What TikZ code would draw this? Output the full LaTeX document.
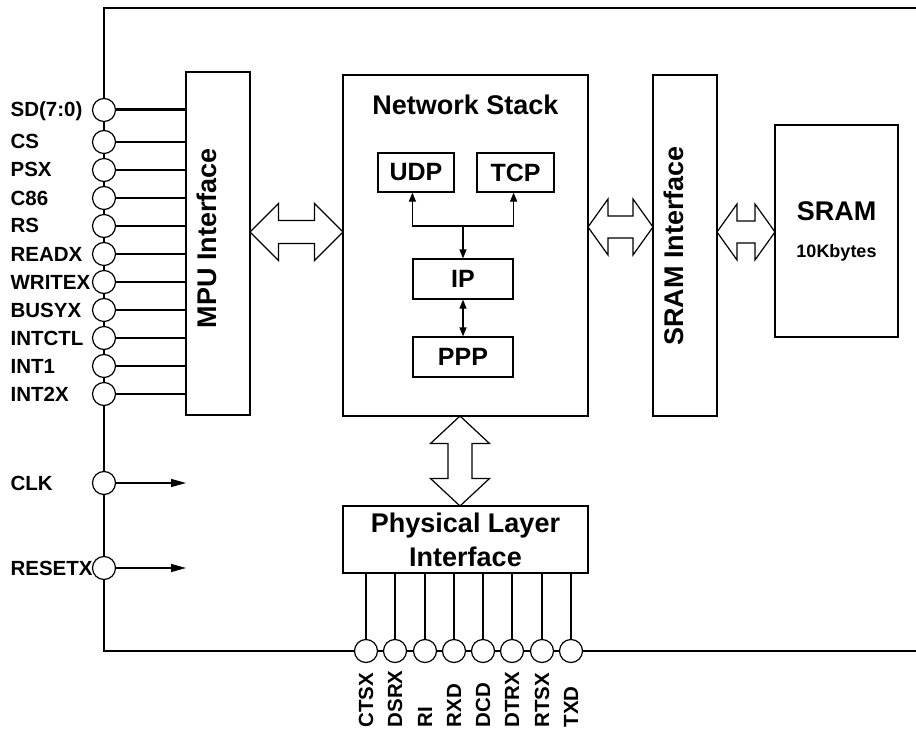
\documentclass[tikz,border=0pt]{standalone}
\usepackage{fontspec}
\setmainfont{Liberation Sans}
\usetikzlibrary{arrows.meta,calc}
\newcommand\hdarr[6]{\draw[hollow] (#1,#3) -- ({#1+#4},{#3-#5}) -- ({#1+#4},{#3-#6}) -- ({#2-#4},{#3-#6}) -- ({#2-#4},{#3-#5}) -- (#2,#3) -- ({#2-#4},{#3+#5}) -- ({#2-#4},{#3+#6}) -- ({#1+#4},{#3+#6}) -- ({#1+#4},{#3+#5}) -- cycle;}
\newcommand\vdarr[6]{\draw[hollow] (#3,#1) -- ({#3-#5},{#1+#4}) -- ({#3-#6},{#1+#4}) -- ({#3-#6},{#2-#4}) -- ({#3-#5},{#2-#4}) -- (#3,#2) -- ({#3+#5},{#2-#4}) -- ({#3+#6},{#2-#4}) -- ({#3+#6},{#1+#4}) -- ({#3+#5},{#1+#4}) -- cycle;}
\begin{document}
\begin{tikzpicture}[x=1pt,y=-1pt,
  line width=1.2pt,
  box/.style={draw,rectangle,inner sep=0pt,fill=white},
  pin/.style={draw,circle,minimum size=23pt,inner sep=0pt,fill=white},
  lbl/.style={font=\fontsize{20.5}{23}\selectfont\bfseries,inner sep=0pt,anchor=base west},
  big/.style={font=\fontsize{27}{34}\selectfont\bfseries},
  mid/.style={font=\fontsize{25}{28}\selectfont\bfseries},
  small/.style={font=\fontsize{18}{20}\selectfont\bfseries},
  hollow/.style={draw,fill=white,line join=miter},
  tip/.style={-{Triangle[length=9pt,width=7pt]}},
  dtip/.style={{Triangle[length=9pt,width=7pt]}-{Triangle[length=9pt,width=7pt]}},
  bigtip/.style={-{Triangle[length=15pt,width=8pt]}},
  ]
\useasboundingbox (0,0) rectangle (916,733);
% frame
\draw (916,8) -- (104,8) -- (104,651) -- (916,651);
% main blocks
\node[box,minimum width=64pt,minimum height=343pt] (mpu) at (218,243.5) {};
\node[big,rotate=90] at (207,238) {MPU Interface};
\node[box,minimum width=245pt,minimum height=341pt] (ns) at (465.5,245.5) {};
\node[big,anchor=base] (nstitle) at (465.5,115) {Network Stack};
\node[box,minimum width=64pt,minimum height=341pt] (srami) at (685,245.5) {};
\node[big,rotate=90] at (674,246) {SRAM Interface};
\node[box,minimum width=123pt,minimum height=212pt] (sram) at (836.5,231) {};
\node[big,anchor=base] (sramt) at (836.5,220) {SRAM};
\node[small,anchor=base] (sramk) at (836.5,257) {10Kbytes};
\node[box,big,align=center,minimum width=245pt,minimum height=67pt] (phy) at (465.5,539.5) {Physical Layer\\Interface};
% stack
\node[box,mid,minimum width=76pt,minimum height=39pt] (udp) at (416,172.5) {UDP};
\node[box,mid,minimum width=77pt,minimum height=39pt] (tcp) at (515.5,172.5) {TCP};
\node[box,mid,minimum width=100pt,minimum height=40pt] (ip) at (463,279) {IP};
\node[box,mid,minimum width=100pt,minimum height=40pt] (ppp) at (463,357) {PPP};
\coordinate (jn) at (ip.north |- 0,226);
\draw[dtip] (udp.south -| ip.west) |- (jn) -| (tcp.south -| ip.east);
\draw[tip] (jn) -- (ip.north);
\draw[dtip] (ip.south) -- (ppp.north);
% hollow arrows
\hdarr{250}{343}{232}{28.5}{28.5}{11.5}
\hdarr{588}{653}{227}{20}{28}{11}
\hdarr{717}{775}{232}{20}{28}{11}
\vdarr{416}{506}{460}{27.5}{29.5}{12}
% left pins
\node[pin] (sd) at (104,110) {};
\node[lbl] at (10,117) {SD(7:0)};
\draw[line width=3pt] (sd.east) -- (sd.east -| mpu.west);
\foreach \t/\y/\nm in {CS/142/cs,PSX/170/psx,C86/198/c86,RS/226/rs,READX/254/readx,WRITEX/282/writex,BUSYX/310/busyx,INTCTL/338/intctl,INT1/366/intone,INT2X/394/inttwox}{
  \node[pin] (\nm) at (104,\y) {};
  \node[lbl] at (10,{\y+7}) {\t};
  \draw (\nm.east) -- (\nm.east -| mpu.west);
}
\node[pin] (clk) at (104,483) {};
\node[lbl] at (10,490) {CLK};
\coordinate (clkend) at (186,483);
\draw[bigtip] (clk.east) -- (clkend);
\node[pin] (rst) at (104,568) {};
\node[lbl] at (10,575) {RESETX};
\coordinate (rstend) at (186,568);
\draw[bigtip] (rst.east) -- (rstend);
% bottom pins
\foreach \t/\x in {CTSX/366,DSRX/395,RI/425,RXD/454,DCD/483,DTRX/512,RTSX/542,TXD/571}{
  \node[pin] (b\t) at (\x,651) {};
  \draw (b\t.north) -- (b\t.north |- phy.south);
  \node[lbl,rotate=90,anchor=west] at (\x,728) {\t};
}
\end{tikzpicture}
\end{document}
